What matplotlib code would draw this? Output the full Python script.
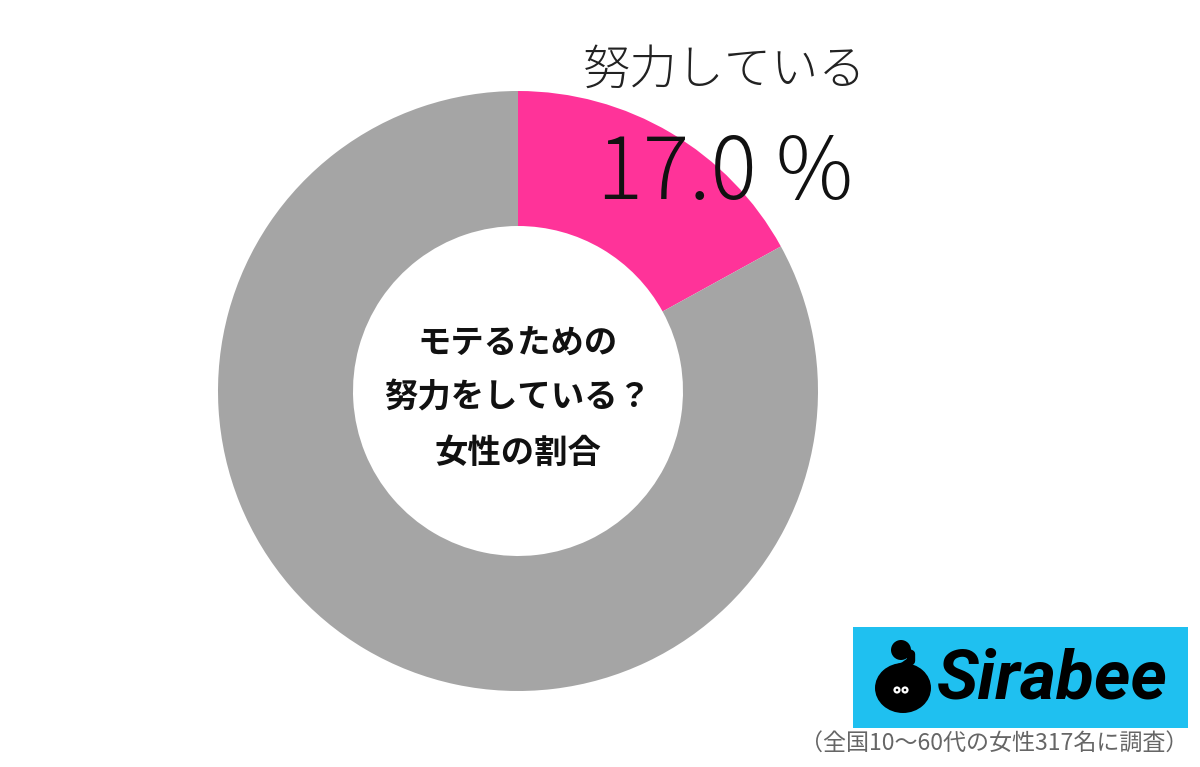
import matplotlib
matplotlib.use("Agg")
import matplotlib.pyplot as plt
from matplotlib.patches import Rectangle, Circle, Ellipse

plt.rcParams['font.family'] = ['Noto Sans CJK JP', 'DejaVu Sans']

labels = ["努力している", "努力していない"]
values = [17.0, 83.0]
colors = ["#FF3399", "#A5A5A5"]
center_title = "モテるための\n努力をしている？\n女性の割合"
label_text = "努力している"
pct_text = "17.0 %"
footnote = "（全国10～60代の女性317名に調査）"

W, H = 1200, 767
fig = plt.figure(figsize=(W / 100, H / 100), dpi=100)
ax = fig.add_axes([0, 0, 1, 1])

cx, cy, R = 518, H - 391, 300
ax.pie(values, colors=colors, startangle=90, counterclock=False,
       center=(cx, cy), radius=R, frame=True,
       wedgeprops=dict(width=R * 0.45, edgecolor='none'))
ax.set_xlim(0, W)
ax.set_ylim(0, H)
ax.set_aspect('equal')
ax.axis('off')

ax.text(cx, H - 398, center_title, ha='center', va='center', fontsize=24,
        fontweight='bold', linespacing=1.85, color='#111111')

ax.text(725, H - 70, label_text, ha='center', va='center', fontsize=34,
        fontweight='light', color='#222222')
ax.text(725, H - 175, pct_text, ha='center', va='center', fontsize=62,
        fontweight='light', color='#111111')

# Sirabee logo
ax.add_patch(Rectangle((853, H - 728), 335, 101, facecolor='#1FC0F0', edgecolor='none'))
ax.add_patch(Ellipse((903, H - 688), 56, 50, facecolor='black'))
ax.add_patch(Circle((901, H - 650), 10, facecolor='black'))
ax.plot([901, 911, 911, 904, 893], [H - 650, H - 654, H - 661, H - 666, H - 670],
        color='black', lw=6, solid_capstyle='round', solid_joinstyle='round')
for ex in (897, 905):
    ax.add_patch(Circle((ex, H - 690), 3.6, facecolor='white', edgecolor='none'))
    ax.add_patch(Circle((ex, H - 690), 1.3, facecolor='black', edgecolor='none'))
ax.text(1052, H - 680, "Sirabee", ha='center', va='center', fontsize=50,
        fontweight='bold', fontstyle='italic', color='black', family='Roboto')

ax.text(994, H - 743, footnote, ha='center', va='center', fontsize=16.6,
        color='#666666')

fig.savefig("out.png", dpi=100)
